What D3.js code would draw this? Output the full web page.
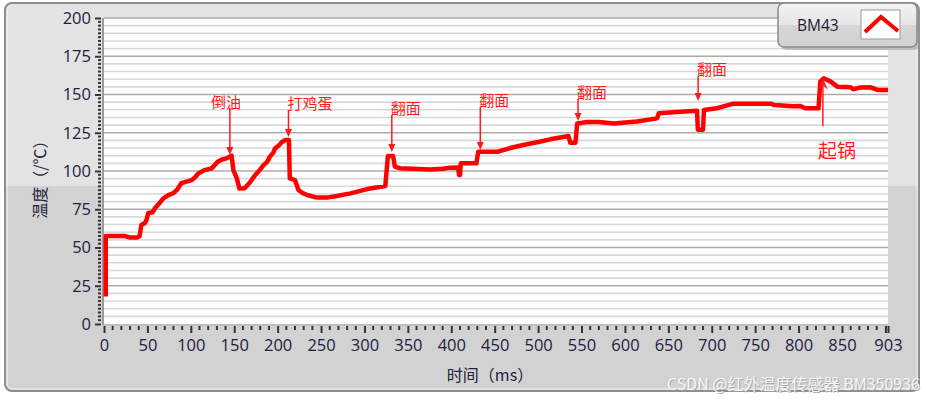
<!DOCTYPE html>
<html>
<head>
<meta charset="utf-8">
<script src="https://cdn.jsdelivr.net/npm/d3@7"></script>
<style>
  body { margin: 0; background: #fff; }
  svg { display: block; }
</style>
</head>
<body>
<div id="vis"></div>
<script>
// temperature trace
let timeMs = [2, 2, 24, 30, 38, 41, 43, 47, 49, 51, 56, 59, 64, 68, 74, 80, 84, 89, 95, 101, 105, 109, 116, 124, 131, 136, 141, 147,
  149, 153, 156, 162, 168, 173, 176, 180, 184, 188, 191, 195, 197, 201, 205, 209, 213, 214, 220, 224, 229, 234, 245, 257, 268,
  284, 303, 324, 327, 333, 335, 341, 376, 390, 399, 408, 409, 410, 411, 429, 431, 453, 468, 483, 500, 514, 535, 537, 543, 545,
  551, 556, 570, 587, 614, 637, 639, 660, 683, 684, 690, 691, 706, 725, 768, 772, 794, 802, 808, 823, 825, 829, 837, 845, 860,
  863, 870, 883, 891, 903];
let tempC = [18, 57.5, 57.5, 56.5, 56.5, 57.5, 64.7, 66, 68, 72.5, 73, 76, 79, 82, 84.3, 85.5, 87.6, 92, 93, 94, 96, 98.5, 100.6, 101.7, 106, 107.5, 108.3, 110,
  100.6, 95.2, 88.5, 88.7, 92.5, 96.5, 98.5, 101, 104, 106, 109.4, 112, 114.8, 116.5, 119, 120.3, 120.3, 95.2, 94, 87.6, 85.5, 84.3, 82.6, 82.6, 83.7,
  85.4, 88.2, 90.2, 109.8, 109.8, 102.8, 101.8, 101, 101.5, 102.2, 102.3, 97.4, 97.4, 105, 105, 112.6, 112.6, 115, 117, 119, 120.7, 122.9, 118.5, 118.5, 131,
  131.5, 132, 132, 131, 132.3, 134.4, 137.7, 138.5, 139.4, 127, 127, 139.9, 141, 144, 144, 143.1, 142.3, 142.5, 141, 141, 158.4, 160.6, 158.4, 155, 154.7,
  153.4, 154.5, 154.7, 153, 153];

let yTicks = [0, 25, 50, 75, 100, 125, 150, 175, 200];
let xTicks = [0, 50, 100, 150, 200, 250, 300, 350, 400, 450, 500, 550, 600, 650, 700, 750, 800, 850, 903];

// annotations: label, time, arrow start temp, arrow tip temp
let annLabels = ["倒油", "打鸡蛋", "翻面", "翻面", "翻面", "翻面", "起锅"];
let annTimes = [145, 212.5, 331.5, 433.4, 546, 684.3, 828];
let annFrom = [141.2, 139.9, 136.6, 141.8, 147, 162, 129.4];
let annTo = [110.5, 122.2, 112.4, 113.7, 132.7, 145.8, 160.8];

let seriesName = "BM43";

let w = 926, h = 400;
let svg = d3.select("#vis").append("svg")
  .attr("width", w)
  .attr("height", h);

let defs = svg.append("defs");
let lg = defs.append("linearGradient").attr("id", "legGrad").attr("x1", 0).attr("x2", 0).attr("y1", 0).attr("y2", 1);
lg.append("stop").attr("offset", "0%").attr("stop-color", "#f2f2f2");
lg.append("stop").attr("offset", "50%").attr("stop-color", "#e6e6e6");
lg.append("stop").attr("offset", "51%").attr("stop-color", "#d6d6d6");
lg.append("stop").attr("offset", "100%").attr("stop-color", "#d2d2d2");
let clip = defs.append("clipPath").attr("id", "panelClip");
clip.append("rect").attr("x", 5).attr("y", 3).attr("width", 914).attr("height", 388).attr("rx", 7);

// panel background (two tone)
let panel = svg.append("g").attr("clip-path", "url(#panelClip)");
panel.append("rect").attr("x", 0).attr("y", 0).attr("width", w).attr("height", 186).attr("fill", "#e3e3e3");
panel.append("rect").attr("x", 0).attr("y", 186).attr("width", w).attr("height", 220).attr("fill", "#d2d2d2");
panel.append("rect").attr("x", 0).attr("y", 0).attr("width", w).attr("height", 6).attr("fill", "#d6d6d6");
svg.append("rect").attr("x", 5).attr("y", 3).attr("width", 914).attr("height", 388).attr("rx", 7)
  .attr("fill", "none").attr("stroke", "#8e8e8e").attr("stroke-width", 2);
svg.append("rect").attr("x", 7).attr("y", 5).attr("width", 910).attr("height", 384).attr("rx", 6)
  .attr("fill", "none").attr("stroke", "#f4f4f4").attr("stroke-width", 1);

let x = d3.scaleLinear().domain([0, 903]).range([104, 888]);
let y = d3.scaleLinear().domain([0, 200]).range([324, 18]);

// plot area
svg.append("rect")
  .attr("x", x(0)).attr("y", y(200))
  .attr("width", x(903) - x(0)).attr("height", y(0) - y(200))
  .attr("fill", "#ffffff");

// grid lines: minor every 5, major every 25
let minor = d3.range(5, 200, 5).filter(function(v){ return v % 25 != 0; });
svg.append("g").selectAll("line")
  .data(minor).enter().append("line")
  .attr("x1", x(0)).attr("x2", x(903))
  .attr("y1", function(d){ return y(d); })
  .attr("y2", function(d){ return y(d); })
  .attr("stroke", "#d8d8d8").attr("stroke-width", 1.6);
svg.append("g").selectAll("line")
  .data(yTicks.slice(1)).enter().append("line")
  .attr("x1", x(0)).attr("x2", x(903))
  .attr("y1", function(d){ return y(d); })
  .attr("y2", function(d){ return y(d); })
  .attr("stroke", "#ababab").attr("stroke-width", 1.6);

// y axis
let yAxis = d3.axisLeft(y).tickValues(yTicks).tickSize(6).tickPadding(4);
let gy = svg.append("g").attr("transform", "translate(" + (x(0) - 3) + ",0)").call(yAxis);
gy.select(".domain").remove();
gy.selectAll(".tick line").attr("stroke", "#333").attr("stroke-width", 2);
gy.selectAll(".tick text")
  .attr("font-family", "'Open Sans', 'Noto Sans', sans-serif")
  .attr("font-size", 16.5).attr("fill", "#1e2140");
svg.append("g").selectAll("line")
  .data(d3.range(0, 200.1, 2.5).filter(function(v){ return v % 25 != 0; }))
  .enter().append("line")
  .attr("x1", x(0) - 6).attr("x2", x(0) - 3)
  .attr("y1", function(d){ return y(d); })
  .attr("y2", function(d){ return y(d); })
  .attr("stroke", "#333").attr("stroke-width", 2);
svg.append("line")
  .attr("x1", x(0) - 1).attr("x2", x(0) - 1).attr("y1", y(200)).attr("y2", y(0) + 1)
  .attr("stroke", "#9a9a9a").attr("stroke-width", 2);

// x axis
let xAxis = d3.axisBottom(x).tickValues(xTicks.concat([900])).tickSize(7).tickPadding(6)
  .tickFormat(function(d){ return d == 900 ? "" : d; });
let gx = svg.append("g").attr("transform", "translate(0," + (y(0) + 2) + ")").call(xAxis);
gx.select(".domain").remove();
gx.selectAll(".tick line").attr("stroke", "#333").attr("stroke-width", 2);
gx.selectAll(".tick text")
  .attr("font-family", "'Open Sans', 'Noto Sans', sans-serif")
  .attr("font-size", 16.5).attr("fill", "#1e2140");
svg.append("g").selectAll("line")
  .data(d3.range(10, 900, 10).filter(function(v){ return v % 50 != 0; }))
  .enter().append("line")
  .attr("x1", function(d){ return x(d); })
  .attr("x2", function(d){ return x(d); })
  .attr("y1", y(0) + 2).attr("y2", y(0) + 6)
  .attr("stroke", "#333").attr("stroke-width", 2);
svg.append("line")
  .attr("x1", x(0) - 1).attr("x2", x(903)).attr("y1", y(0) + 1).attr("y2", y(0) + 1)
  .attr("stroke", "#b8b8b8").attr("stroke-width", 1.5);

// axis titles
svg.append("text")
  .attr("transform", "translate(46," + y(97) + ") rotate(-90)")
  .attr("text-anchor", "middle")
  .attr("font-family", "'Noto Sans CJK SC', sans-serif")
  .attr("font-size", 16).attr("fill", "#1e2140")
  .text("温度（/℃）");
svg.append("text")
  .attr("x", 490).attr("y", 381)
  .attr("text-anchor", "middle")
  .attr("font-family", "'Noto Sans CJK SC', sans-serif")
  .attr("font-size", 16).attr("fill", "#1e2140")
  .text("时间（ms）");

// temperature line
let pts = timeMs.map(function(t, i){ return [t, tempC[i]]; });
let line = d3.line()
  .x(function(d){ return x(d[0]); })
  .y(function(d){ return y(d[1]); });
svg.append("path")
  .datum(pts)
  .attr("d", line)
  .attr("fill", "none")
  .attr("stroke", "#ff0000")
  .attr("stroke-width", 4.5)
  .attr("stroke-linejoin", "round");

// annotations
let red = "#ff1a1a";
annLabels.forEach(function(lab, i){
  let ax = x(annTimes[i]), y0 = y(annFrom[i]), y1 = y(annTo[i]);
  let up = y1 < y0;
  svg.append("line")
    .attr("x1", ax).attr("x2", ax)
    .attr("y1", y0).attr("y2", up ? y1 + 6 : y1 - 6)
    .attr("stroke", red).attr("stroke-width", 1.5);
  if (up) {
    svg.append("path")
      .attr("d", "M" + (ax - 5) + "," + (y1 + 12) + "L" + ax + "," + y1 + "L" + (ax + 5) + "," + (y1 + 12) + "L" + ax + "," + (y1 + 7) + "Z")
      .attr("fill", red);
  } else {
    svg.append("path")
      .attr("d", "M" + (ax - 3.5) + "," + (y1 - 8) + "L" + ax + "," + y1 + "L" + (ax + 3.5) + "," + (y1 - 8) + "Z")
      .attr("fill", red);
  }
  let t = svg.append("text")
    .attr("font-family", "'Noto Sans CJK SC', sans-serif")
    .attr("fill", red)
    .text(lab);
  if (up) {
    t.attr("x", ax - 5).attr("y", y0 + 32).attr("font-size", 19);
  } else if (i == 0) {
    t.attr("x", ax - 4).attr("y", y0).attr("text-anchor", "middle").attr("font-size", 15);
  } else {
    t.attr("x", ax - 1).attr("y", y0 - 1).attr("font-size", 15);
  }
});

// legend
svg.append("rect").attr("x", 781).attr("y", 6).attr("width", 139).attr("height", 44).attr("rx", 6)
  .attr("fill", "#9a9a9a").attr("opacity", 0.5);
svg.append("rect").attr("x", 778).attr("y", 3).attr("width", 139).attr("height", 44).attr("rx", 6)
  .attr("fill", "url(#legGrad)").attr("stroke", "#8a8a8a").attr("stroke-width", 1.5);
svg.append("text").attr("x", 797).attr("y", 31)
  .attr("font-family", "'Open Sans', 'Noto Sans', sans-serif")
  .attr("font-size", 15.5).attr("fill", "#1e1e2e")
  .text(seriesName);
svg.append("rect").attr("x", 861).attr("y", 10).attr("width", 39).attr("height", 29)
  .attr("fill", "#fff").attr("stroke", "#9a9a9a").attr("stroke-width", 1);
svg.append("path").attr("d", "M865,32L881,17L898,31")
  .attr("fill", "none").attr("stroke", "#ff0000").attr("stroke-width", 4);

// watermark: soft shadow + light text
let wm = "CSDN @红外温度传感器 BM350936";
svg.append("text").attr("x", 921).attr("y", 391)
  .attr("text-anchor", "end")
  .attr("font-family", "'Noto Sans CJK SC', sans-serif")
  .attr("font-size", 16)
  .attr("fill", "#9c9c9c").attr("fill-opacity", 0.8)
  .text(wm);
svg.append("text").attr("x", 920).attr("y", 390)
  .attr("text-anchor", "end")
  .attr("font-family", "'Noto Sans CJK SC', sans-serif")
  .attr("font-size", 16)
  .attr("fill", "#f6f6f6")
  .text(wm);
</script>
</body>
</html>
